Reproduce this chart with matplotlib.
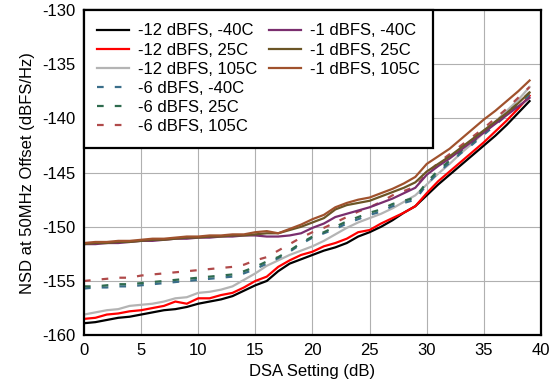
import matplotlib.pyplot as plt
from matplotlib.lines import Line2D

plt.rcParams['font.family'] = ['Liberation Sans', 'DejaVu Sans']
plt.rcParams['axes.unicode_minus'] = False

dsa = list(range(40))

# -12 dBFS
m12_n40 = [-158.9, -158.8, -158.6, -158.4, -158.3, -158.1, -157.9, -157.7, -157.6, -157.4,
           -157.1, -156.9, -156.7, -156.4, -155.9, -155.4, -155.0, -154.1, -153.4, -153.0,
           -152.6, -152.2, -151.9, -151.5, -150.9, -150.5, -150.0, -149.4, -148.7, -148.1,
           -147.1, -146.1, -145.2, -144.3, -143.4, -142.5, -141.6, -140.6, -139.5, -138.4]
m12_25 = [-158.5, -158.4, -158.1, -158.0, -157.8, -157.7, -157.5, -157.3, -156.9, -157.1,
          -156.6, -156.6, -156.3, -156.1, -155.6, -155.0, -154.6, -153.7, -153.1, -152.6,
          -152.3, -151.8, -151.5, -151.1, -150.5, -150.3, -149.7, -149.2, -148.7, -148.1,
          -146.9, -145.8, -144.9, -144.0, -143.1, -142.2, -141.2, -140.2, -139.1, -137.9]
m12_105 = [-158.1, -157.9, -157.7, -157.6, -157.3, -157.2, -157.1, -156.9, -156.6, -156.5,
           -156.1, -156.0, -155.8, -155.5, -154.9, -154.3, -153.6, -153.1, -152.6, -152.2,
           -151.8, -151.3, -150.7, -150.1, -149.6, -149.2, -148.8, -148.3, -147.7, -147.1,
           -146.1, -145.1, -144.2, -143.2, -142.3, -141.3, -140.3, -139.3, -138.3, -137.1]

# -6 dBFS
m6_n40 = [-155.7, -155.6, -155.6, -155.5, -155.5, -155.4, -155.3, -155.2, -155.1, -155.0,
          -154.9, -154.8, -154.7, -154.6, -154.3, -153.9, -153.4, -152.9, -152.3, -151.6,
          -151.0, -150.6, -150.2, -149.7, -149.3, -148.9, -148.6, -148.1, -147.8, -147.5,
          -146.1, -145.0, -144.1, -143.2, -142.4, -141.5, -140.6, -139.7, -138.8, -137.8]
m6_25 = [-155.5, -155.5, -155.4, -155.3, -155.3, -155.2, -155.1, -155.0, -154.9, -154.8,
         -154.7, -154.6, -154.5, -154.4, -154.1, -153.7, -153.2, -152.8, -152.2, -151.5,
         -150.9, -150.5, -150.0, -149.5, -149.1, -148.7, -148.4, -147.9, -147.6, -147.3,
         -145.9, -144.8, -143.9, -143.0, -142.2, -141.3, -140.4, -139.5, -138.6, -137.6]
m6_105 = [-155.0, -154.9, -154.8, -154.7, -154.7, -154.5, -154.4, -154.3, -154.2, -154.1,
          -154.0, -153.9, -153.8, -153.7, -153.5, -153.1, -152.8, -152.2, -151.6, -151.0,
          -150.5, -150.1, -149.6, -149.1, -148.6, -148.2, -147.7, -147.1, -146.7, -146.3,
          -145.1, -144.1, -143.3, -142.5, -141.7, -140.9, -140.0, -139.1, -138.1, -137.1]

# -1 dBFS
m1_n40 = [-151.6, -151.6, -151.5, -151.5, -151.4, -151.3, -151.3, -151.2, -151.1, -151.1,
          -151.0, -151.0, -150.9, -150.9, -150.8, -150.8, -150.9, -150.9, -150.8, -150.6,
          -150.1, -149.7, -149.1, -148.8, -148.5, -148.2, -147.8, -147.4, -146.9, -146.4,
          -145.2, -144.4, -143.7, -142.9, -142.1, -141.3, -140.5, -139.7, -138.9, -138.1]
m1_25 = [-151.6, -151.5, -151.5, -151.4, -151.4, -151.3, -151.2, -151.2, -151.1, -151.0,
         -151.0, -150.9, -150.9, -150.8, -150.8, -150.7, -150.6, -150.6, -150.3, -150.0,
         -149.6, -149.2, -148.4, -148.0, -147.8, -147.6, -147.2, -146.8, -146.4, -145.9,
         -144.9, -144.2, -143.5, -142.7, -141.9, -141.1, -140.3, -139.5, -138.6, -137.6]
m1_105 = [-151.5, -151.4, -151.4, -151.3, -151.3, -151.2, -151.1, -151.1, -151.0, -150.9,
          -150.9, -150.8, -150.8, -150.7, -150.7, -150.5, -150.4, -150.6, -150.2, -149.8,
          -149.3, -148.9, -148.2, -147.8, -147.5, -147.3, -146.9, -146.5, -146.0, -145.4,
          -144.2, -143.5, -142.8, -141.9, -141.0, -140.1, -139.3, -138.4, -137.5, -136.5]

series = [
    (m12_n40, '-12 dBFS, -40C', '#000000', '-'),
    (m12_25, '-12 dBFS, 25C', '#ff0000', '-'),
    (m12_105, '-12 dBFS, 105C', '#b4b4b4', '-'),
    (m6_n40, '-6 dBFS, -40C', '#3a6e8a', '--'),
    (m6_25, '-6 dBFS, 25C', '#2e6b4e', '--'),
    (m6_105, '-6 dBFS, 105C', '#b04a4a', '--'),
    (m1_n40, '-1 dBFS, -40C', '#7a2e6e', '-'),
    (m1_25, '-1 dBFS, 25C', '#6b5526', '-'),
    (m1_105, '-1 dBFS, 105C', '#a0522d', '-'),
]

fig = plt.figure(figsize=(5.56, 3.87), dpi=100)
ax = fig.add_axes([0.151, 0.134, 0.822, 0.840])

handles = []
for vals, label, color, ls in series:
    if ls == '--':
        h, = ax.plot(dsa, vals, color=color, lw=1.6, linestyle=(0, (3, 5)), label=label)
    else:
        h, = ax.plot(dsa, vals, color=color, lw=1.6, label=label)
    handles.append(h)

ax.set_xlim(0, 40)
ax.set_ylim(-160, -130)
ax.set_xticks(range(0, 41, 5))
ax.set_yticks(range(-160, -129, 5))
ax.grid(True, color='#b0b0b0', lw=0.8)
ax.set_axisbelow(True)
for s in ax.spines.values():
    s.set_linewidth(1.6)
    s.set_color('black')
ax.tick_params(length=0, labelsize=12, pad=6)
ax.set_xlabel('DSA Setting (dB)', fontsize=12, labelpad=4)
ax.set_ylabel('NSD at 50MHz Offset (dBFS/Hz)', fontsize=12, labelpad=5)

# 6 entries in the first column, 3 in the second
blank = Line2D([], [], color='none')
leg_handles = handles[:6] + handles[6:] + [blank] * 3
leg_labels = [h.get_label() for h in handles] + [''] * 3
leg = ax.legend(leg_handles, leg_labels, loc='upper left', ncol=2, fontsize=12,
                frameon=True, fancybox=False, borderaxespad=0, handlelength=1.9,
                handletextpad=0.55, columnspacing=0.7, labelspacing=0.25, borderpad=0.8)
leg.get_frame().set_edgecolor('black')
leg.get_frame().set_linewidth(1.6)
leg.get_frame().set_alpha(1)

fig.savefig('out.png', dpi=100)
